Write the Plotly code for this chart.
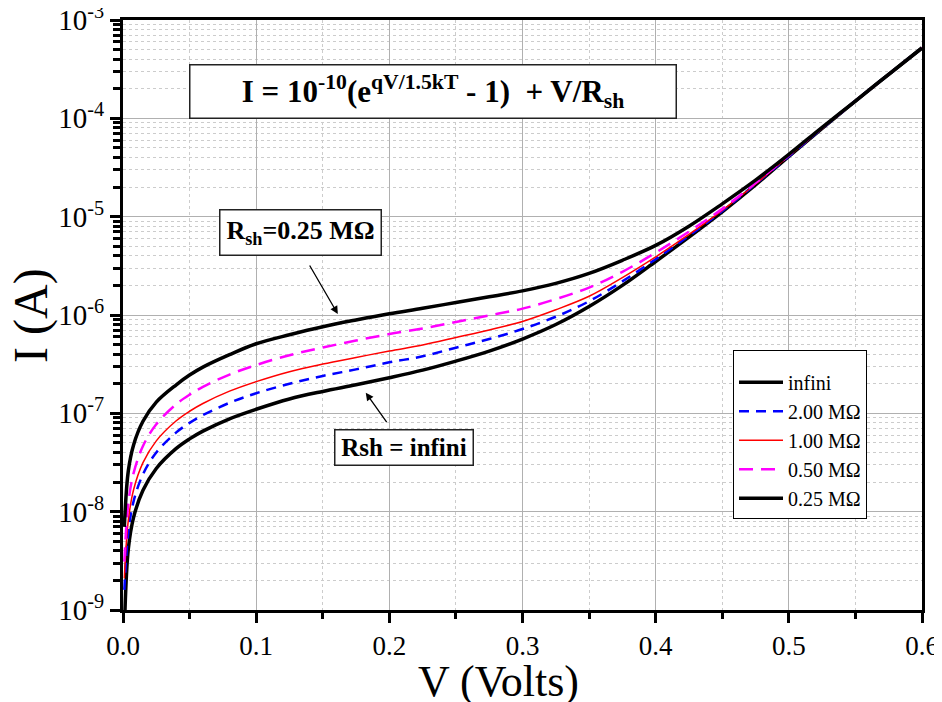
import plotly.graph_objects as go

# ---- data ----
V = [0.001, 0.004, 0.008, 0.015, 0.025, 0.04, 0.05, 0.06, 0.08, 0.1, 0.125, 0.15, 0.175,
     0.2, 0.225, 0.25, 0.275, 0.3, 0.325, 0.35, 0.375, 0.4, 0.425, 0.45, 0.475,
     0.5, 0.525, 0.55, 0.575, 0.6]

V_inf = [0.0015, 0.004, 0.008, 0.015, 0.025, 0.04, 0.05, 0.06, 0.08, 0.1, 0.125, 0.15, 0.175,
         0.2, 0.225, 0.25, 0.275, 0.3, 0.325, 0.35, 0.375, 0.4, 0.425, 0.45, 0.475,
         0.5, 0.525, 0.55, 0.575, 0.6]
I_infini = [1.0e-9, 4.2e-9, 8.8e-9, 1.65e-8, 2.75e-8, 4.4e-8, 5.5e-8, 6.6e-8, 8.8e-8, 1.1e-7,
            1.4e-7, 1.67e-7, 1.95e-7, 2.3e-7, 2.75e-7, 3.4e-7, 4.3e-7, 5.7e-7, 8.0e-7,
            1.22e-6, 2.0e-6, 3.5e-6, 6.2e-6, 1.12e-5, 2.1e-5, 4.1e-5, 7.9e-5, 1.5e-4,
            2.8e-4, 5.2e-4]
I_2M = [1.6e-9, 6.2e-9, 1.28e-8, 2.4e-8, 4.0e-8, 6.4e-8, 8.0e-8, 9.6e-8, 1.28e-7, 1.6e-7,
        2.0e-7, 2.4e-7, 2.8e-7, 3.3e-7, 3.8e-7, 4.65e-7, 5.7e-7, 7.2e-7, 9.6e-7,
        1.38e-6, 2.2e-6, 3.7e-6, 6.4e-6, 1.14e-5, 2.15e-5, 4.1e-5, 7.9e-5, 1.5e-4,
        2.8e-4, 5.2e-4]
I_1M = [2.1e-9, 8.2e-9, 1.68e-8, 3.15e-8, 5.25e-8, 8.4e-8, 1.05e-7, 1.26e-7, 1.68e-7, 2.1e-7,
        2.65e-7, 3.17e-7, 3.7e-7, 4.3e-7, 4.95e-7, 5.9e-7, 7.05e-7, 8.6e-7, 1.13e-6,
        1.55e-6, 2.4e-6, 3.9e-6, 6.6e-6, 1.16e-5, 2.15e-5, 4.15e-5, 7.9e-5, 1.5e-4,
        2.8e-4, 5.2e-4]
I_05M = [3.1e-9, 1.22e-8, 2.48e-8, 4.65e-8, 7.75e-8, 1.24e-7, 1.55e-7, 1.86e-7, 2.48e-7, 3.1e-7,
         3.9e-7, 4.67e-7, 5.5e-7, 6.4e-7, 7.3e-7, 8.5e-7, 9.9e-7, 1.16e-6, 1.45e-6,
         1.9e-6, 2.75e-6, 4.3e-6, 7.05e-6, 1.2e-5, 2.2e-5, 4.2e-5, 8.0e-5, 1.5e-4,
         2.8e-4, 5.2e-4]
I_025M = [7.0e-9, 2.6e-8, 4.8e-8, 8.3e-8, 1.3e-7, 1.95e-7, 2.45e-7, 2.95e-7, 3.95e-7, 5.1e-7,
          6.3e-7, 7.6e-7, 8.9e-7, 1.03e-6, 1.17e-6, 1.34e-6, 1.53e-6, 1.76e-6, 2.1e-6,
          2.65e-6, 3.6e-6, 5.1e-6, 8.0e-6, 1.35e-5, 2.35e-5, 4.3e-5, 8.1e-5, 1.5e-4,
          2.8e-4, 5.2e-4]

series_names = ["infini", "2.00 MΩ", "1.00 MΩ", "0.50 MΩ", "0.25 MΩ"]
y_tickvals = [1e-9, 1e-8, 1e-7, 1e-6, 1e-5, 1e-4, 1e-3]
y_ticktext = ["10<sup>-9</sup>", "10<sup>-8</sup>", "10<sup>-7</sup>", "10<sup>-6</sup>",
              "10<sup>-5</sup>", "10<sup>-4</sup>", "10<sup>-3</sup>"]

FONT = "Liberation Serif, Times New Roman, serif"

fig = go.Figure()
fig.add_trace(go.Scatter(x=V_inf, y=I_infini, mode="lines", name=series_names[0],
                         line=dict(color="black", width=3.5), line_shape="spline"))
fig.add_trace(go.Scatter(x=V, y=I_2M, mode="lines", name=series_names[1],
                         line=dict(color="#0000FF", width=2.5, dash="10px,7px"), line_shape="spline"))
fig.add_trace(go.Scatter(x=V, y=I_1M, mode="lines", name=series_names[2],
                         line=dict(color="#FF0000", width=1.5), line_shape="spline"))
fig.add_trace(go.Scatter(x=V, y=I_05M, mode="lines", name=series_names[3],
                         line=dict(color="#FF00FF", width=2.5, dash="14px,8px"), line_shape="spline"))
fig.add_trace(go.Scatter(x=V, y=I_025M, mode="lines", name=series_names[4],
                         line=dict(color="black", width=3.5), line_shape="spline"))

grid_major = "#b0b0b0"
grid_minor = "#cccccc"

fig.update_xaxes(
    range=[0, 0.6], dtick=0.1, tick0=0, tickformat=".1f", automargin=False,
    ticklabeloverflow="allow",
    showline=True, linecolor="black", linewidth=3, mirror=True,
    ticks="outside", ticklen=10, tickwidth=3, tickcolor="black",
    showgrid=True, gridcolor=grid_major, gridwidth=1,
    zeroline=False,
    tickfont=dict(family=FONT, size=27, color="black"),
    minor=dict(dtick=0.05, ticks="outside", ticklen=6, tickwidth=3, tickcolor="black",
               showgrid=True, gridcolor=grid_minor, griddash="dot", gridwidth=1),
)
fig.update_yaxes(
    type="log", range=[-9.00001, -2.99999], automargin=False,
    ticklabeloverflow="allow",
    tickmode="array", tickvals=y_tickvals, ticktext=y_ticktext,
    showline=True, linecolor="black", linewidth=3, mirror=True,
    ticks="outside", ticklen=10, tickwidth=3, tickcolor="black",
    showgrid=True, gridcolor=grid_major, gridwidth=1,
    zeroline=False,
    tickfont=dict(family=FONT, size=29, color="black"),
    minor=dict(dtick="D1", ticks="outside", ticklen=7, tickwidth=3, tickcolor="black",
               showgrid=True, gridcolor=grid_minor, griddash="dot", gridwidth=1),
)

# page has an 8px body margin: figure drawn at (8, 8)
OFF = 8
W, H = 942 - OFF, 702 - OFF
# plot area in page pixels: x 123..922, y 20..610
PL, PR, PT, PB = 123, 922, 20, 610
L, R, T, B = PL - OFF, W - (PR - OFF), PT - OFF, H - (PB - OFF)


def px(x):
    return (x - PL) / (PR - PL)


def py(y):
    return (PB - y) / (PB - PT)


annotations = [
    # axis titles
    dict(text="V (Volts)", x=px(498), y=py(681), xref="paper", yref="paper",
         showarrow=False, xanchor="center", yanchor="middle",
         font=dict(family=FONT, size=44, color="black")),
    dict(text="I (A)", x=px(31), y=py(316), xref="paper", yref="paper",
         showarrow=False, xanchor="center", yanchor="middle", textangle=-90,
         font=dict(family=FONT, size=48, color="black")),
    # equation box
    dict(text="<b>I = 10<sup>-10</sup>(e<sup>qV/1.5kT</sup> - 1)  + V/R<sub>sh</sub></b>",
         x=px(433), y=py(92), xref="paper", yref="paper", showarrow=False,
         xanchor="center", yanchor="middle", bgcolor="white", bordercolor="#222",
         borderwidth=1.5, borderpad=0, width=485, height=52,
         font=dict(family=FONT, size=31, color="black")),
    # Rsh = 0.25 box
    dict(text="<b>R<sub>sh</sub>=0.25 MΩ</b>", x=px(300), y=py(233), xref="paper", yref="paper",
         showarrow=False, xanchor="center", yanchor="middle", bgcolor="white",
         bordercolor="#222", borderwidth=1.5, borderpad=0, width=160, height=44,
         font=dict(family=FONT, size=26, color="black")),
    # Rsh = infini box
    dict(text="<b>Rsh = infini</b>", x=px(404), y=py(447), xref="paper", yref="paper",
         showarrow=False, xanchor="center", yanchor="middle", bgcolor="white",
         bordercolor="#222", borderwidth=1.5, borderpad=0, width=137, height=34,
         font=dict(family=FONT, size=25, color="black")),
    # arrows
    dict(text="", x=0.1613, y=-5.99, xref="x", yref="y", showarrow=True,
         ax=-29, ay=-50, arrowhead=2, arrowsize=1.2, arrowwidth=1.3, arrowcolor="black"),
    dict(text="", x=0.1823, y=-6.79, xref="x", yref="y", showarrow=True,
         ax=22, ay=31, arrowhead=2, arrowsize=1.2, arrowwidth=1.3, arrowcolor="black"),
]

fig.update_layout(
    width=W, height=H,
    margin=dict(l=L, r=R, t=T, b=B, pad=0),
    paper_bgcolor="white", plot_bgcolor="white",
    font=dict(family=FONT, color="black"),
    annotations=annotations,
    legend=dict(x=px(733), y=py(350), xanchor="left", yanchor="top",
                bgcolor="white", bordercolor="black", borderwidth=1,
                font=dict(family=FONT, size=20, color="black"),
                title=dict(text=" ", font=dict(size=9)),
                tracegroupgap=0, itemwidth=44),
    showlegend=True,
)

fig.write_html("out.html")
